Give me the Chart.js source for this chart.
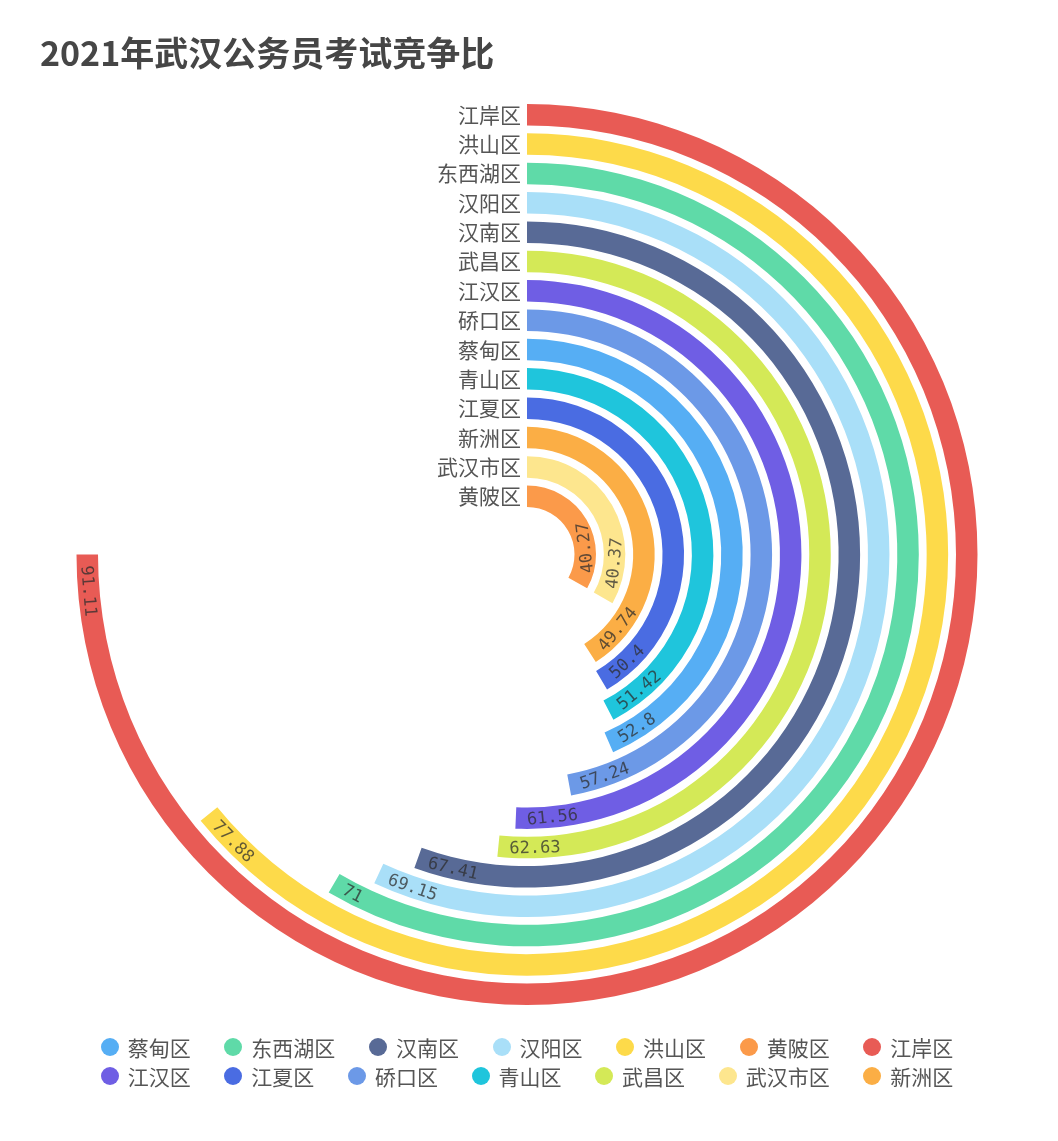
<!DOCTYPE html>
<html>
<head>
<meta charset="utf-8">
<script src="https://cdn.jsdelivr.net/npm/chart.js@4/dist/chart.umd.min.js"></script>
<style>
  body { margin: 0; background: #fff; }
  #wrap { position: relative; width: 1058px; height: 1141px; }
  #legend { position: absolute; left: 0; top: 1032px; width: 1054px;
            font: 21px "Noto Sans CJK SC", "Noto Sans", sans-serif; color: #555; }
  .row { display: flex; justify-content: center; height: 29.5px; align-items: center; }
  .item { display: flex; align-items: center; margin: 0 16.8px; white-space: nowrap; }
  .dot { width: 18px; height: 18px; border-radius: 50%; margin-right: 9px; }
</style>
</head>
<body>
<div id="wrap">
  <canvas id="chart" width="1058" height="1141"></canvas>
  <div id="legend"></div>
</div>
<script>
// rings from outside to inside
const categories = ['江岸区', '洪山区', '东西湖区', '汉阳区', '汉南区', '武昌区', '江汉区',
                    '硚口区', '蔡甸区', '青山区', '江夏区', '新洲区', '武汉市区', '黄陂区'];
const ratios = [91.11, 77.88, 71, 69.15, 67.41, 62.63, 61.56, 57.24, 52.8, 51.42, 50.4, 49.74, 40.37, 40.27];
const colors = ['#e85b55', '#fdda4a', '#5fdaa8', '#a9dff8', '#586a96', '#d4e957', '#6f5ee4',
                '#6c99e7', '#56aef4', '#1fc5dc', '#4a6ce2', '#fbae45', '#fde68e', '#fb9a4a'];
// legend order as shown under the chart
const legendRow1 = ['蔡甸区', '东西湖区', '汉南区', '汉阳区', '洪山区', '黄陂区', '江岸区'];
const legendRow2 = ['江汉区', '江夏区', '硚口区', '青山区', '武昌区', '武汉市区', '新洲区'];
const angleMax = 121.48; // full circle on the angle axis

const datasets = [];
categories.forEach((name, i) => {
    datasets.push({
        label: name,
        data: [ratios[i], angleMax - ratios[i]],
        backgroundColor: [colors[i], 'rgba(0,0,0,0)'],
        borderWidth: 0,
        weight: 1
    });
    // empty ring as gap between bars
    if (i < categories.length - 1) {
        datasets.push({ label: '', spacer: true, data: [1], backgroundColor: ['rgba(0,0,0,0)'], borderWidth: 0, weight: 0.365 });
    }
});

const ringLabels = {
    id: 'ringLabels',
    afterDatasetsDraw(chart) {
        const ctx = chart.ctx;
        chart.data.datasets.forEach((ds, i) => {
            if (ds.spacer) return;
            const arc = chart.getDatasetMeta(i).data[0];
            const { x, y, endAngle, innerRadius, outerRadius } =
                arc.getProps(['x', 'y', 'endAngle', 'innerRadius', 'outerRadius'], true);
            const r = (innerRadius + outerRadius) / 2;

            ctx.save();
            // category name on the radius axis
            ctx.font = '21px "Noto Sans CJK SC", "Noto Sans", sans-serif';
            ctx.fillStyle = '#555';
            ctx.textAlign = 'right';
            ctx.textBaseline = 'middle';
            ctx.fillText(ds.label, x - 6, y - r);

            // value at the end of the bar, along the ring
            const text = String(ds.data[0]);
            ctx.font = '17px "DejaVu Sans Mono", monospace';
            const w = ctx.measureText(text).width;
            const a = endAngle - (11 + w / 2) / r;
            ctx.translate(x + r * Math.cos(a), y + r * Math.sin(a));
            ctx.rotate(a - Math.PI / 2);
            ctx.textAlign = 'center';
            ctx.fillStyle = 'rgba(45,45,45,0.75)';
            ctx.fillText(text, 0, 1);
            ctx.restore();
        });
    }
};

new Chart(document.getElementById('chart'), {
    type: 'doughnut',
    data: { labels: ['value', 'rest'], datasets: datasets },
    options: {
        responsive: false,
        animation: false,
        events: [],
        cutout: 47.5,
        layout: { padding: { top: 0, left: 40, right: 44, bottom: 136 } },
        plugins: {
            legend: { display: false },
            tooltip: { enabled: false },
            title: {
                display: true,
                text: '2021年武汉公务员考试竞争比',
                align: 'start',
                color: '#464646',
                font: { size: 34, weight: 'bold', family: '"Noto Sans CJK SC", "Noto Sans", sans-serif' },
                padding: { top: 32.6, bottom: 30.6 }
            }
        }
    },
    plugins: [ringLabels]
});

// legend
const legend = document.getElementById('legend');
[legendRow1, legendRow2].forEach(names => {
    const row = document.createElement('div');
    row.className = 'row';
    names.forEach(name => {
        const item = document.createElement('div');
        item.className = 'item';
        const dot = document.createElement('span');
        dot.className = 'dot';
        dot.style.background = colors[categories.indexOf(name)];
        item.appendChild(dot);
        item.appendChild(document.createTextNode(name));
        row.appendChild(item);
    });
    legend.appendChild(row);
});
</script>
</body>
</html>
